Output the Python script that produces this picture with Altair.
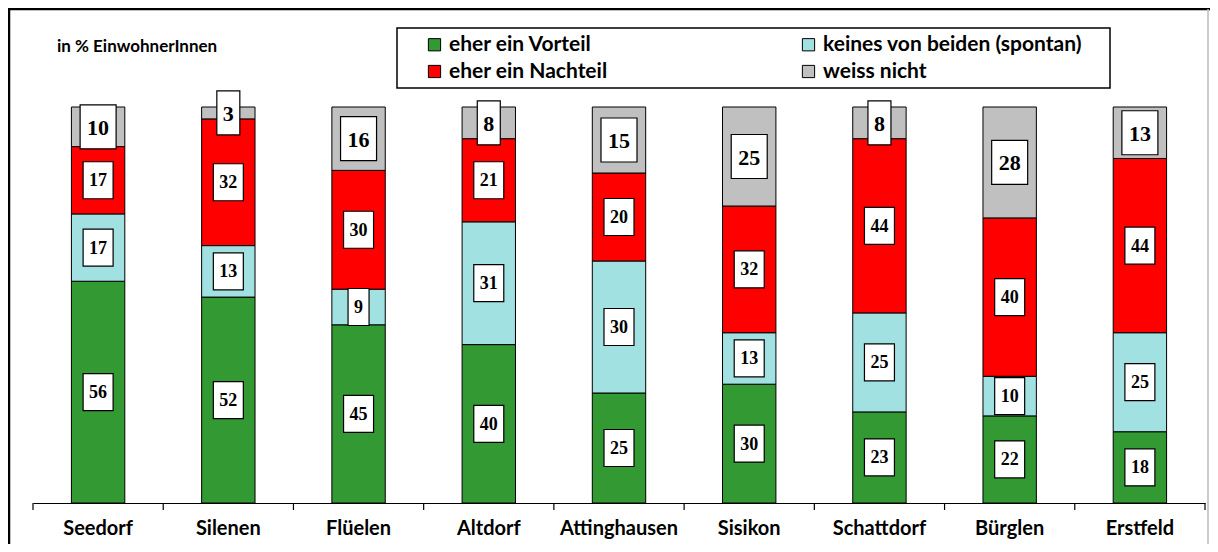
import altair as alt
import pandas as pd

towns = ["Seedorf", "Silenen", "Flüelen", "Altdorf", "Attinghausen",
         "Sisikon", "Schattdorf", "Bürglen", "Erstfeld"]
categories = ["eher ein Vorteil", "keines von beiden (spontan)",
              "eher ein Nachteil", "weiss nicht"]
colors = ["#339933", "#A1E1E1", "#FF0000", "#C0C0C0"]
legend_order = ["eher ein Vorteil", "eher ein Nachteil",
                "keines von beiden (spontan)", "weiss nicht"]
vorteil = [56, 52, 45, 40, 25, 30, 23, 22, 18]
keines = [17, 13, 9, 31, 30, 13, 25, 10, 25]
nachteil = [17, 32, 30, 21, 20, 32, 44, 40, 44]
weiss = [10, 3, 16, 8, 15, 25, 8, 28, 13]

rows = []
for i, t in enumerate(towns):
    for j, (c, vals) in enumerate(zip(categories, [vorteil, keines, nachteil, weiss])):
        rows.append({"town": t, "cat": c, "value": vals[i], "order": j})
df = pd.DataFrame(rows)

col_map = dict(zip(categories, colors))

W, H = 1172, 396
PAD_IN = 0.59
STEP = W / (len(towns) - PAD_IN + 2 * PAD_IN / 2)
base = alt.Chart(df)

xenc = alt.X("town:N", sort=towns, title=None,
             scale=alt.Scale(paddingInner=PAD_IN, paddingOuter=PAD_IN / 2))
yscale = alt.Scale(domain=[0, 1], nice=False, zero=True)

bars = base.mark_bar(stroke="black", strokeWidth=1).encode(
    x=xenc,
    y=alt.Y("value:Q", stack="normalize", scale=yscale, axis=None),
    color=alt.Color("cat:N",
                    scale=alt.Scale(domain=legend_order,
                                    range=[col_map[c] for c in legend_order]),
                    legend=alt.Legend(title=None, orient="none", legendX=391, legendY=-73,
                                      columns=2, columnPadding=190, rowPadding=5,
                                      symbolType="square", symbolSize=150,
                                      symbolStrokeColor="black", symbolStrokeWidth=1,
                                      symbolOpacity=1,
                                      labelFont="Lato", labelFontSize=21,
                                      labelFontWeight="bold", labelColor="black",
                                      labelLimit=400, labelOffset=4)),
    order=alt.Order("order:Q", sort="ascending"),
)

lab = base.transform_stack(
    stack="value", as_=["y0", "y1"], groupby=["town"], offset="normalize",
    sort=[alt.SortField("order", order="ascending")]
).transform_calculate(
    mid="(datum.y0 + datum.y1) / 2",
    nd="length(toString(datum.value))",
)

layers = [bars]
box_specs = [
    ("datum.order == 3 && datum.nd == 2", 36, 44, 22),
    ("datum.order == 3 && datum.nd == 1", 23, 44, 22),
    ("datum.order != 3 && datum.nd == 2", 30, 37, 18),
    ("datum.order != 3 && datum.nd == 1", 21, 37, 18),
]
for flt, w, h, fs in box_specs:
    sub = lab.transform_filter(flt)
    layers.append(sub.mark_rect(width=w, height=h, fill="white", stroke="black",
                                strokeWidth=1.2).encode(
        x=xenc, y=alt.Y("mid:Q", scale=yscale, axis=None)))
    layers.append(sub.mark_text(font="Liberation Serif", fontWeight="bold", fontSize=fs,
                                baseline="middle", color="black", dy=1).encode(
        x=xenc, y=alt.Y("mid:Q", scale=yscale, axis=None),
        text="value:Q"))

# tick marks at category boundaries (Excel style)
tick_df = pd.DataFrame({"town": towns})
ticks = alt.Chart(tick_df).mark_rule(color="black", strokeWidth=1.2,
                                     xOffset=-PAD_IN / 2 * STEP).encode(
    x=alt.X("town:N", sort=towns, bandPosition=0, title=None,
            scale=alt.Scale(paddingInner=PAD_IN, paddingOuter=PAD_IN / 2)),
    y=alt.value(H), y2=alt.value(H + 7))

one = alt.Chart(pd.DataFrame({"a": [0]}))
end_tick = one.mark_rule(color="black", strokeWidth=1.2).encode(
    x=alt.value(W), y=alt.value(H), y2=alt.value(H + 7))
subtitle = one.mark_text(text="in % EinwohnerInnen", font="Lato", fontWeight="bold",
                         fontSize=17, align="left", baseline="alphabetic",
                         color="black").encode(x=alt.value(24), y=alt.value(-55))
legend_box = one.mark_rect(fill=None, stroke="black", strokeWidth=1.5).encode(
    x=alt.value(364), x2=alt.value(1077), y=alt.value(-79), y2=alt.value(-19))
frame_left = one.mark_rule(color="black", strokeWidth=2.5).encode(
    x=alt.value(-24), y=alt.value(-98), y2=alt.value(H + 41))
frame_top = one.mark_rule(color="black", strokeWidth=2.5).encode(
    x=alt.value(-25), x2=alt.value(W + 5), y=alt.value(-98))
frame_right = one.mark_rule(color="#BBBBBB", strokeWidth=1.5).encode(
    x=alt.value(W + 3), y=alt.value(-98), y2=alt.value(H + 41))

chart = alt.layer(*layers, ticks, end_tick, subtitle, legend_box,
                  frame_left, frame_top, frame_right).properties(
    width=W, height=H,
    autosize=alt.AutoSizeParams(type="none"),
    padding={"left": 25, "top": 99, "right": 5, "bottom": 41},
).configure_view(stroke=None).configure_axisX(
    labelAngle=0, ticks=False, tickColor="black", domainColor="black",
    domainWidth=1.2,
    labelFont="Lato", labelFontWeight="bold", labelFontSize=20,
    labelColor="black", labelPadding=15, grid=False,
)

chart.save("out.html", embed_options={"renderer": "svg", "actions": False})
